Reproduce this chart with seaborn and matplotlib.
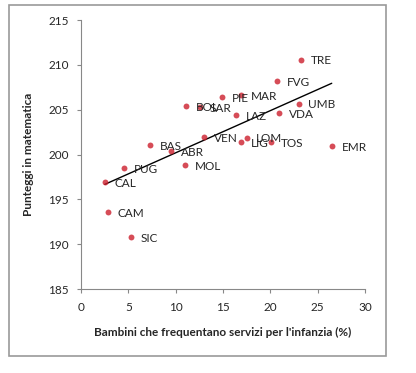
import matplotlib
matplotlib.use("Agg")
import matplotlib.pyplot as plt
import seaborn as sns
import pandas as pd
from matplotlib.patches import Rectangle

# Regioni: % bambini nei servizi per l'infanzia vs punteggio in matematica
regioni = ["TRE", "FVG", "MAR", "PIE", "BOL", "SAR", "UMB", "LAZ", "VDA", "VEN",
           "LOM", "LIG", "TOS", "BAS", "EMR", "ABR", "MOL", "PUG", "CAL", "CAM", "SIC"]
servizi = [23.3, 20.7, 16.9, 14.9, 11.1, 12.6, 23.0, 16.4, 20.9, 13.0,
           17.5, 16.9, 20.1, 7.3, 26.5, 9.5, 11.0, 4.5, 2.5, 2.8, 5.3]
punteggi = [210.6, 208.2, 206.6, 206.4, 205.4, 205.3, 205.7, 204.4, 204.6, 202.0,
            201.9, 201.4, 201.4, 201.1, 201.0, 200.4, 198.8, 198.5, 196.9, 193.6, 190.8]

df = pd.DataFrame({"regione": regioni, "servizi": servizi, "punteggio": punteggi})

sns.set_style("white")
plt.rcParams["font.family"] = ["Lato", "DejaVu Sans"]

fig = plt.figure(figsize=(4.16, 3.73), dpi=100)
ax = fig.add_axes([0.195, 0.225, 0.682, 0.721])

# grey frame around the whole chart
fig.patches.append(Rectangle((9 / 416, 1 - 356 / 373), 377 / 416, 351 / 373,
                             transform=fig.transFigure, fill=False,
                             edgecolor="#9a9a9a", linewidth=1.2))

sns.regplot(data=df, x="servizi", y="punteggio", ci=None, ax=ax,
            scatter_kws=dict(color="#cc1f2d", s=18, linewidths=0, zorder=3),
            line_kws=dict(color="black", linewidth=1.0))

for _, r in df.iterrows():
    ax.annotate(r.regione, (r.servizi, r.punteggio), xytext=(7, -1),
                textcoords="offset points", fontsize=8.5, va="center", ha="left")

ax.set_xlim(0, 30)
ax.set_ylim(185, 215)
ax.set_xticks(range(0, 31, 5))
ax.set_yticks(range(185, 216, 5))
ax.tick_params(axis="both", labelsize=8.5, direction="out", length=3, width=0.8,
               color="#888888", pad=6, left=True, bottom=True)
sns.despine(ax=ax)
for s in ["left", "bottom"]:
    ax.spines[s].set_color("#888888")
    ax.spines[s].set_linewidth(0.8)

ax.set_xlabel("Bambini che frequentano servizi per l'infanzia (%)",
              fontsize=8.5, fontweight="bold", labelpad=10)
ax.set_ylabel("Punteggi in matematica", fontsize=8.5, fontweight="bold", labelpad=10)

fig.savefig("out.png", dpi=100)
